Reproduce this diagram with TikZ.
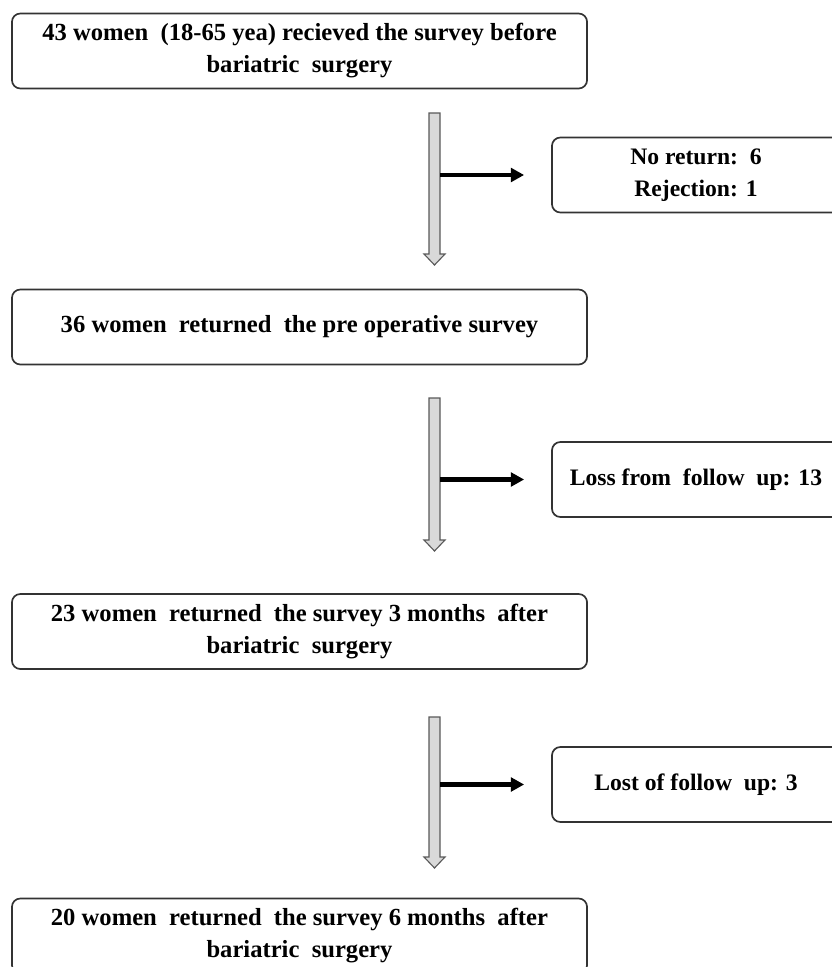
\documentclass[tikz,border=0pt]{standalone}
\usepackage{fontspec}
\setmainfont{Liberation Serif}
\usetikzlibrary{arrows.meta, calc}

\begin{document}
\begin{tikzpicture}[x=0.025cm, y=-0.025cm,
    mainbox/.style={draw=black!80, line width=1.2pt, rounded corners=6pt,
                minimum width=14.375cm, minimum height=1.875cm, align=center,
                font=\bfseries\fontsize{17.5}{22.8}\selectfont},
    sidebox/.style={mainbox, minimum width=7.2cm,
                font=\bfseries\fontsize{16.8}{22.8}\selectfont},
    grayarrow/.style={draw=black!65, fill=black!15, line width=0.8pt},
    sidearrow/.style={line width=3pt, -{Triangle[length=3.3mm, width=3.4mm]}}
]
    \useasboundingbox (0,0) rectangle (832,967);
    \clip (0,0) rectangle (832,967);

    % main boxes
    \node[mainbox] (b1) at (299.5,51) {43 women\ \ (18-65 yea) recieved the survey before\\bariatric\ \ surgery};
    \node[mainbox] (b2) at (299.5,327) {36 women\ \ returned\ \ the pre operative survey};
    \node[mainbox] (b3) at (299.5,631.5) {23 women\ \ returned\ \ the survey 3 months\ \ after\\bariatric\ \ surgery};
    \node[mainbox] (b4) at (299.5,936) {20 women\ \ returned\ \ the survey 6 months\ \ after\\bariatric\ \ surgery};

    % side boxes
    \node[sidebox] (s1) at (696,175) {No return:\ \ 6\\Rejection: 1};
    \node[sidebox] (s2) at (696,479.5) {Loss from\ \ follow\ \ up: 13};
    \node[sidebox] (s3) at (696,784.5) {Lost of follow\ \ up: 3};

    % gray down arrows
    \foreach \i/\t/\b in {1/113/265, 2/398/551, 3/717/868} {
        \coordinate (t\i) at (434.5,\t);
        \coordinate (h\i) at (434.5,\b);
        \draw[grayarrow] ($(t\i)+(-5.5,0)$) -- ($(t\i)+(5.5,0)$) -- ($(h\i)+(5.5,-11)$)
            -- ($(h\i)+(10.5,-11)$) -- (h\i) -- ($(h\i)+(-10.5,-11)$)
            -- ($(h\i)+(-5.5,-11)$) -- cycle;
    }

    % arrows to the side boxes
    \foreach \i in {1,2,3} {
        \coordinate (e\i) at ($(s\i.west)+(-27,0)$);
        \draw[sidearrow] ($(t\i |- s\i.west)+(5.5,0)$) -- (e\i);
    }
\end{tikzpicture}
\end{document}
